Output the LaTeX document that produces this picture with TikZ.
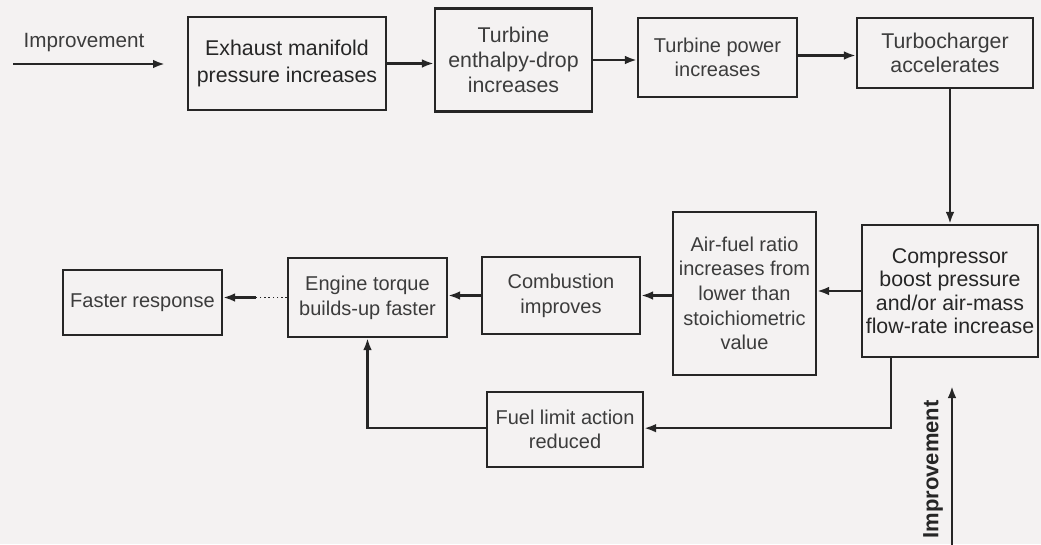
\documentclass[tikz,border=0pt]{standalone}
\usepackage{fontspec}
\setmainfont{Liberation Sans}
\usetikzlibrary{arrows.meta,calc}
\definecolor{paper}{HTML}{F4F2F2}
\definecolor{ink}{HTML}{262626}
\definecolor{txt}{HTML}{3C3C3C}
\begin{document}
\begin{tikzpicture}
[
    x=0.75pt, y=-0.75pt,
    box/.style={draw=ink, line width=1.6pt, align=center, inner sep=1pt, text=txt,
        font=\fontsize{15}{18.5}\selectfont},
    link/.style={draw=ink, line width=1.8pt, -{Latex[length=9pt,width=6.5pt]}},
    lbl/.style={text=txt, inner sep=0pt, font=\fontsize{15.5}{18}\selectfont},
]
\fill[paper] (0,0) rectangle (1041,544);
\useasboundingbox (0,0) rectangle (1041,544);
\node[box, minimum width=148.5pt, minimum height=69.75pt, text=ink,
    font=\fontsize{16}{20}\selectfont] (exhaust) at (287,63.5) {Exhaust manifold\\pressure increases};
\node[box, minimum width=117.75pt, minimum height=77.25pt,
    font=\fontsize{16}{18.5}\selectfont] (enthalpy) at (513.5,60) {Turbine\\enthalpy-drop\\increases};
\node[box, minimum width=119.25pt, minimum height=59.25pt] (power) at (717.5,57.5) {Turbine power\\increases};
\node[box, minimum width=132pt, minimum height=52.5pt,
    font=\fontsize{16}{18.5}\selectfont] (turbo) at (945,53) {Turbocharger\\accelerates};
\node[box, minimum width=132pt, minimum height=99pt, text=ink,
    font=\fontsize{16}{17.5}\selectfont] (comp) at (950,291) {Compressor\\boost pressure\\and/or air-mass\\flow-rate increase};
\node[box, minimum width=107.25pt, minimum height=122.25pt] (airfuel) at (744.5,293.5) {Air-fuel ratio\\increases from\\lower than\\stoichiometric\\value};
\node[box, minimum width=118.5pt, minimum height=57.75pt] (comb) at (561,295.5) {Combustion\\improves};
\node[box, minimum width=119.25pt, minimum height=59.25pt] (torque) at (367.5,297.5) {Engine torque\\builds-up faster};
\node[box, minimum width=119.25pt, minimum height=48.75pt] (faster) at (142.5,302.5) {Faster response};
\node[box, minimum width=117pt, minimum height=56.25pt] (fuel) at (565,429.5) {Fuel limit action\\reduced};
\node[lbl] (imph) at (84,43) {Improvement};
\node[lbl, rotate=90, anchor=east, text=ink, font=\bfseries\fontsize{16.5}{18}\selectfont] (impv) at (933,400) {Improvement};
\coordinate (hlo) at (13,64);
\coordinate (hhi) at (165,64);
\coordinate (vlo) at (952,546);
\coordinate (vhi) at (952,386);
\draw[link] (hlo) -- (hhi);
\draw[link] (vlo) -- (vhi);
\draw[link] (exhaust.east) -- (enthalpy.west |- exhaust.east);
\draw[link] (enthalpy.east) -- (power.west |- enthalpy.east);
\draw[link] ([yshift=1.5pt]power.east) -- ([yshift=1.5pt]turbo.west |- power.east);
\draw[link] (comp.north |- turbo.south) -- (comp.north);
\draw[link] (comp.west) -- (airfuel.east |- comp.west);
\draw[link] (airfuel.west |- comb.east) -- (comb.east);
\draw[link] (comb.west) -- (torque.east |- comb.west);
\draw[draw=ink, line width=1.2pt, dotted] (torque.west) -- ++(-31,0) coordinate (dotend);
\draw[link] (dotend) -- (faster.east |- dotend);
\draw[link] ($(comp.south west)!0.17!(comp.south east)$) |- ([yshift=1pt]fuel.east);
\draw[link] ([yshift=1pt]fuel.west) -| (torque.south);
\end{tikzpicture}
\end{document}
